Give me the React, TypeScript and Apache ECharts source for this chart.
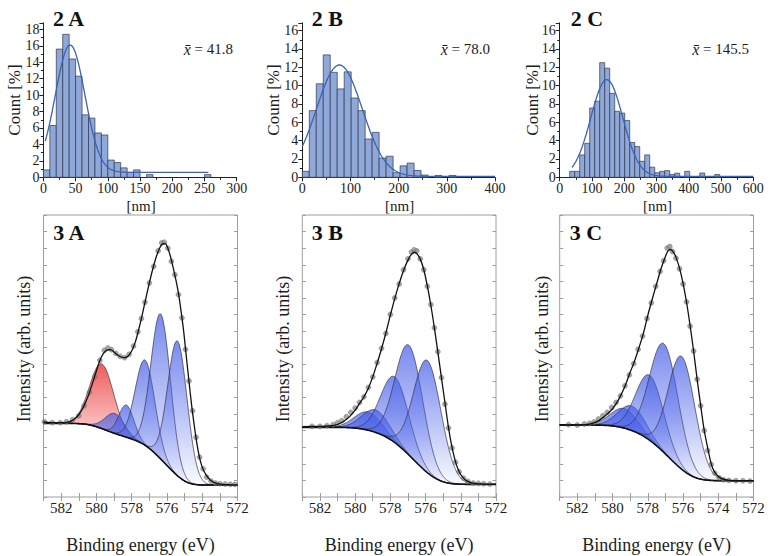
import React, { useEffect, useRef } from 'react';
import * as echarts from 'echarts';

const FONT = '"Liberation Serif", "DejaVu Serif", serif';
const INK = '#1c1c1c';
const BOX = '#9e9e9e';

// ---------- Histograms 2 A / 2 B / 2 C ----------
const histTitles = ['2 A', '2 B', '2 C'];
const meanLabels = ['41.8', '78.0', '145.5'];
const histXMax = [300, 400, 600];
const histXStep = [50, 100, 100];
const histYMax = [18.8, 16.85, 16.85];

// bin start (nm), bin width (nm), bar heights (Count %)
const histAStart = 0;
const histAWidth = 10;
const histACounts = [0.9, 6.3, 15.6, 17.4, 14.4, 12.3, 7.6, 7.2, 5.4, 5.15, 2.1, 1.8, 1.15, 0.6, 0.9, 0, 0.33, 0, 0, 0, 0, 0, 0, 0, 0, 0.33];

const histBStart = 0;
const histBWidth = 14.5;
const histBCounts = [0.65, 7.27, 10.2, 13.35, 11.45, 9.64, 11.5, 8.65, 7.27, 4.18, 4.9, 2.1, 2.3, 0.5, 1.25, 1.55, 0.75, 0.25, 0, 0.2, 0, 0.2];

const histCStart = 31;
const histCWidth = 15.5;
const histCCounts = [0.65, 0.65, 2.44, 3.7, 7.56, 8.3, 12.5, 11.9, 9.16, 7.2, 7.0, 6.2, 3.8, 3.35, 1.75, 2.44, 1.1, 0.5, 0.65, 0.73, 0.3, 0.45, 0, 0.65, 0, 0, 0.47, 0, 0, 0.3];

// fitted normal curves: [mean, sd, amplitude, offset, from, to]
const fitA = [41.5, 23, 15.5, 0.6, 3, 256];
const fitB = [77, 47.5, 12.15, 0.1, 0, 400];
const fitC = [146, 49.6, 10.55, 0.1, 38, 600];

// ---------- XPS 3 A / 3 B / 3 C ----------
const xpsTitles = ['3 A', '3 B', '3 C'];
const energyMin = 572;
const energyMax = 583;

// fitted components: [centre (eV), height above background, FWHM (eV)]
const xpsAPeaks = [[579.7, 1.95, 1.6], [578.95, 0.6, 1.3], [578.3, 0.97, 1.0], [577.24, 2.57, 1.3], [576.35, 4.37, 1.3], [575.4, 4.06, 1.3]];
const xpsAColors = ['red', 'blue', 'blue', 'blue', 'blue', 'blue'];
const xpsABackground = [2.22, 0.36]; // [high BE level, low BE level]
// envelope (fit sum): [eV, intensity]
const xpsAEnvelope = [
  [583.0, 2.26], [582.5, 2.24], [582.0, 2.24], [581.6, 2.26], [581.3, 2.33], [581.0, 2.48], [580.75, 2.7], [580.5, 3.0],
  [580.25, 3.38], [580.0, 3.8], [579.8, 4.12], [579.6, 4.33], [579.4, 4.43], [579.2, 4.44], [579.0, 4.37], [578.8, 4.28],
  [578.6, 4.22], [578.4, 4.2], [578.2, 4.25], [578.0, 4.4], [577.8, 4.66], [577.6, 5.05], [577.4, 5.5], [577.2, 5.98],
  [577.0, 6.45], [576.8, 6.88], [576.6, 7.25], [576.4, 7.52], [576.25, 7.63], [576.1, 7.64], [575.95, 7.5], [575.8, 7.25],
  [575.65, 6.92], [575.5, 6.56], [575.35, 6.15], [575.2, 5.6], [575.05, 4.98], [574.9, 4.22], [574.75, 3.48], [574.6, 2.76],
  [574.45, 2.15], [574.3, 1.6], [574.15, 1.18], [574.0, 0.9], [573.8, 0.68], [573.55, 0.51], [573.2, 0.41], [572.6, 0.37],
  [572.0, 0.36],
];
const xpsAPoints = [
  [582.95, 2.27], [582.5, 2.24], [582.05, 2.24], [581.7, 2.27], [581.35, 2.33], [581.0, 2.45], [580.7, 2.75], [580.4, 3.15],
  [580.1, 3.62], [579.8, 4.12], [579.55, 4.42], [579.35, 4.49], [579.15, 4.44], [578.9, 4.33], [578.65, 4.24], [578.4, 4.2],
  [578.15, 4.3], [577.9, 4.55], [577.65, 4.98], [577.45, 5.38], [577.25, 5.87], [577.0, 6.45], [576.75, 6.95], [576.5, 7.42],
  [576.3, 7.66], [576.15, 7.68], [575.95, 7.5], [575.75, 7.1], [575.55, 6.7], [575.35, 6.1], [575.15, 5.4], [574.95, 4.45],
  [574.75, 3.5], [574.55, 2.6], [574.35, 1.8], [574.15, 1.2], [573.95, 0.85], [573.75, 0.6], [573.5, 0.48], [573.25, 0.42],
  [573.0, 0.4], [572.7, 0.39], [572.4, 0.38], [572.15, 0.38],
];

const xpsBPeaks = [[579.26, 0.55, 1.8], [578.82, 0.68, 1.8], [577.74, 1.98, 1.85], [576.93, 3.31, 1.85], [575.89, 3.38, 1.85]];
const xpsBColors = ['blue', 'blue', 'blue', 'blue', 'blue'];
const xpsBBackground = [2.1, 0.38];
const xpsBEnvelope = [
  [583.0, 2.12], [582.0, 2.13], [581.5, 2.14], [581.2, 2.16], [580.9, 2.21], [580.6, 2.3], [580.3, 2.43], [580.0, 2.62],
  [579.75, 2.82], [579.5, 3.02], [579.25, 3.28], [579.0, 3.62], [578.75, 4.03], [578.5, 4.47], [578.25, 4.95], [578.0, 5.48],
  [577.75, 5.98], [577.5, 6.43], [577.25, 6.83], [577.0, 7.14], [576.8, 7.32], [576.65, 7.37], [576.5, 7.34], [576.3, 7.17],
  [576.1, 6.85], [575.9, 6.36], [575.7, 5.78], [575.5, 5.1], [575.3, 4.36], [575.1, 3.6], [574.9, 2.85], [574.7, 2.1],
  [574.5, 1.5], [574.3, 1.06], [574.1, 0.77], [573.85, 0.57], [573.6, 0.47], [573.3, 0.42], [572.8, 0.39], [572.0, 0.38],
];
const xpsBPoints = [
  [582.45, 2.13], [582.0, 2.13], [581.6, 2.15], [581.25, 2.18], [581.0, 2.24], [580.75, 2.3], [580.5, 2.42], [580.25, 2.55],
  [580.0, 2.68], [579.75, 2.85], [579.5, 3.02], [579.25, 3.3], [579.0, 3.62], [578.75, 4.05], [578.5, 4.48], [578.25, 4.93],
  [578.0, 5.5], [577.75, 6.0], [577.5, 6.42], [577.25, 6.85], [577.0, 7.18], [576.8, 7.38], [576.65, 7.45], [576.5, 7.42],
  [576.3, 7.18], [576.1, 6.85], [575.9, 6.35], [575.7, 5.8], [575.5, 5.1], [575.3, 4.38], [575.1, 3.6], [574.9, 2.8],
  [574.7, 2.08], [574.5, 1.48], [574.3, 1.05], [574.1, 0.76], [573.85, 0.57], [573.6, 0.47], [573.3, 0.42], [573.0, 0.41],
  [572.7, 0.4], [572.35, 0.39],
];

const xpsCPeaks = [[579.34, 0.59, 1.8], [578.9, 0.74, 1.8], [577.88, 1.96, 1.85], [577.07, 3.28, 1.9], [576.07, 3.4, 1.8]];
const xpsCColors = ['blue', 'blue', 'blue', 'blue', 'blue'];
const xpsCBackground = [2.17, 0.49];
const xpsCEnvelope = [
  [583.0, 2.17], [582.0, 2.17], [581.5, 2.18], [581.2, 2.21], [580.9, 2.27], [580.6, 2.37], [580.3, 2.5], [580.0, 2.66],
  [579.75, 2.85], [579.5, 3.1], [579.25, 3.4], [579.0, 3.76], [578.75, 4.1], [578.5, 4.5], [578.25, 4.93], [578.0, 5.47],
  [577.75, 5.96], [577.5, 6.42], [577.25, 6.88], [577.0, 7.25], [576.85, 7.42], [576.7, 7.46], [576.55, 7.38], [576.4, 7.23],
  [576.2, 6.9], [576.0, 6.45], [575.8, 5.87], [575.6, 5.17], [575.4, 4.4], [575.2, 3.55], [575.0, 2.76], [574.8, 2.02],
  [574.6, 1.48], [574.4, 1.0], [574.2, 0.74], [573.95, 0.6], [573.6, 0.52], [573.0, 0.49], [572.0, 0.49],
];
const xpsCPoints = [
  [582.5, 2.18], [582.0, 2.17], [581.6, 2.2], [581.3, 2.22], [581.05, 2.26], [580.8, 2.35], [580.55, 2.45], [580.3, 2.55],
  [580.05, 2.7], [579.8, 2.85], [579.55, 3.05], [579.3, 3.35], [579.05, 3.68], [578.8, 4.02], [578.55, 4.45], [578.3, 4.85],
  [578.05, 5.38], [577.8, 5.85], [577.55, 6.35], [577.3, 6.8], [577.1, 7.12], [576.9, 7.5], [576.75, 7.55], [576.6, 7.4],
  [576.4, 7.2], [576.2, 6.88], [576.0, 6.42], [575.8, 5.88], [575.6, 5.15], [575.4, 4.4], [575.2, 3.55], [575.0, 2.75],
  [574.8, 2.0], [574.6, 1.4], [574.4, 0.98], [574.2, 0.72], [573.95, 0.58], [573.7, 0.52], [573.4, 0.5], [573.0, 0.49],
  [572.6, 0.49], [572.2, 0.48],
];

// ---------- layout ----------
const histGrids = [
  { left: 43.4, width: 193.3 },
  { left: 302.3, width: 192.7 },
  { left: 559.7, width: 193.6 },
];
const xpsGrids = [
  { left: 43.5, width: 194 },
  { left: 302.3, width: 193.7 },
  { left: 559.7, width: 193.8 },
];

function gauss(x: number, c: number, h: number, w: number) {
  return h * Math.exp((-4 * Math.LN2 * (x - c) * (x - c)) / (w * w));
}

function xpsModel(peaks: number[][], levels: number[]) {
  const step = 0.025;
  const xs: number[] = [];
  for (let i = 0; i <= 440; i++) xs.push(+(energyMin + i * step).toFixed(3));
  const comps = peaks.map((p) => xs.map((x) => gauss(x, p[0], p[1], p[2])));
  const total = xs.map((_, i) => comps.reduce((s, c) => s + c[i], 0));
  const cum = [0];
  for (let i = 1; i < xs.length; i++) cum.push(cum[i - 1] + ((total[i] + total[i - 1]) / 2) * step);
  const [hi, lo] = levels;
  const bg = cum.map((c) => lo + ((hi - lo) * c) / cum[cum.length - 1]);
  return { xs, comps, bg };
}

function fitCurve(f: number[]) {
  const [m, sd, a, off, from, to] = f;
  const pts: number[][] = [];
  for (let x = from; x <= to; x += 1) pts.push([x, off + a * Math.exp(-((x - m) * (x - m)) / (2 * sd * sd))]);
  return pts;
}

const blueFill = () =>
  new echarts.graphic.LinearGradient(0, 0, 0, 1, [
    { offset: 0, color: 'rgba(70,94,232,0.72)' },
    { offset: 1, color: 'rgba(70,94,232,0.03)' },
  ]);
const redFill = () =>
  new echarts.graphic.LinearGradient(0, 0, 0, 1, [
    { offset: 0, color: 'rgba(238,70,70,0.88)' },
    { offset: 0.55, color: 'rgba(238,70,70,0.3)' },
    { offset: 1, color: 'rgba(238,70,70,0.04)' },
  ]);

function buildOption() {
  const hists = [
    { start: histAStart, width: histAWidth, counts: histACounts, fit: fitA },
    { start: histBStart, width: histBWidth, counts: histBCounts, fit: fitB },
    { start: histCStart, width: histCWidth, counts: histCCounts, fit: fitC },
  ];
  const xps = [
    { peaks: xpsAPeaks, colors: xpsAColors, levels: xpsABackground, points: xpsAPoints, envelope: xpsAEnvelope },
    { peaks: xpsBPeaks, colors: xpsBColors, levels: xpsBBackground, points: xpsBPoints, envelope: xpsBEnvelope },
    { peaks: xpsCPeaks, colors: xpsCColors, levels: xpsCBackground, points: xpsCPoints, envelope: xpsCEnvelope },
  ];

  const grid: any[] = [];
  histGrids.forEach((g) => grid.push({ left: g.left, width: g.width, top: 22.8, height: 154.5, outerBoundsMode: 'none' }));
  xpsGrids.forEach((g) =>
    grid.push({ left: g.left, width: g.width, top: 215, height: 282, show: true, borderColor: BOX, borderWidth: 1, backgroundColor: 'transparent', outerBoundsMode: 'none' })
  );

  const labelStyle = { color: INK, fontFamily: FONT };
  const xAxis: any[] = [];
  const yAxis: any[] = [];
  for (let i = 0; i < 3; i++) {
    xAxis.push({
      type: 'value', gridIndex: i, min: 0, max: histXMax[i], interval: histXStep[i],
      axisLine: { show: true, onZero: false, lineStyle: { color: '#222', width: 1 } },
      axisTick: { show: true, length: 4, lineStyle: { color: '#222' } },
      minorTick: { show: true, splitNumber: 2, length: 2.5, lineStyle: { color: '#222' } },
      axisLabel: { ...labelStyle, fontSize: 14, margin: 4 },
      splitLine: { show: false },
    });
    yAxis.push({
      type: 'value', gridIndex: i, min: 0, max: histYMax[i], interval: 2,
      axisLine: { show: true, onZero: false, lineStyle: { color: '#222', width: 1 } },
      axisTick: { show: true, length: 4, lineStyle: { color: '#222' } },
      minorTick: { show: true, splitNumber: 2, length: 2.5, lineStyle: { color: '#222' } },
      axisLabel: { ...labelStyle, fontSize: 14, margin: 4, formatter: (v: number) => (Math.abs(v % 2) < 1e-9 ? String(v) : '') },
      splitLine: { show: false },
    });
  }
  for (let i = 0; i < 3; i++) {
    xAxis.push({
      type: 'value', gridIndex: 3 + i, min: energyMin, max: energyMax, interval: 1, inverse: true, position: 'bottom',
      axisLine: { show: false },
      axisTick: { show: true, inside: true, length: 4, lineStyle: { color: BOX } },
      axisLabel: {
        ...labelStyle, fontSize: 15, margin: 3,
        formatter: (v: number) => (Math.round(v) % 2 === 0 ? String(Math.round(v)) : ''),
      },
      splitLine: { show: false },
    });
  }
  for (let i = 0; i < 3; i++) {
    xAxis.push({
      type: 'value', gridIndex: 3 + i, min: energyMin, max: energyMax, interval: 1, inverse: true, position: 'top',
      axisLine: { show: false },
      axisTick: { show: true, inside: true, length: 4, lineStyle: { color: BOX } },
      axisLabel: { show: false },
      splitLine: { show: false },
    });
  }
  for (let i = 0; i < 3; i++) {
    yAxis.push({
      type: 'value', gridIndex: 3 + i, min: 0, max: 8.5, interval: 0.5, position: 'left',
      axisLine: { show: false },
      axisTick: { show: true, inside: true, length: 3.5, lineStyle: { color: BOX } },
      axisLabel: { show: false },
      splitLine: { show: false },
    });
  }
  for (let i = 0; i < 3; i++) {
    yAxis.push({
      type: 'value', gridIndex: 3 + i, min: 0, max: 8.5, interval: 0.5, position: 'right',
      axisLine: { show: false },
      axisTick: { show: true, inside: true, length: 3.5, lineStyle: { color: BOX } },
      axisLabel: { show: false },
      splitLine: { show: false },
    });
  }

  const series: any[] = [];
  hists.forEach((h, i) => {
    const data = h.counts
      .map((c, k) => [h.start + k * h.width, h.start + (k + 1) * h.width, c])
      .filter((d) => d[2] > 0);
    series.push({
      type: 'custom', xAxisIndex: i, yAxisIndex: i, silent: true,
      data, encode: { x: [0, 1], y: 2 },
      renderItem: (_p: any, api: any) => {
        const a = api.coord([api.value(0), api.value(2)]);
        const b = api.coord([api.value(1), 0]);
        return {
          type: 'rect',
          shape: { x: a[0], y: a[1], width: b[0] - a[0], height: b[1] - a[1] },
          style: { fill: '#8fa8da', stroke: 'rgba(45,50,70,0.85)', lineWidth: 0.8 },
        };
      },
    });
    series.push({
      type: 'line', xAxisIndex: i, yAxisIndex: i, data: fitCurve(h.fit), showSymbol: false, silent: true,
      lineStyle: { color: '#3b62b8', width: 1.3 }, z: 3,
    });
  });

  xps.forEach((p, i) => {
    const m = xpsModel(p.peaks, p.levels);
    series.push({
      type: 'custom', xAxisIndex: 3 + i, yAxisIndex: 3 + i, silent: true, clip: true,
      data: p.peaks.map((pk, k) => [pk[0], 1, k]), encode: { x: 0, y: 1 },
      renderItem: (_pp: any, api: any) => {
        const k = api.value(2);
        const up = m.xs.map((x, j) => api.coord([x, m.bg[j] + m.comps[k][j]]));
        const lo = m.xs.map((x, j) => api.coord([x, m.bg[j]])).reverse();
        return {
          type: 'group',
          children: [
            { type: 'polygon', shape: { points: up.concat(lo) }, style: { fill: p.colors[k] === 'red' ? redFill() : blueFill() } },
            { type: 'polyline', shape: { points: up }, style: { fill: 'none', stroke: 'rgba(45,45,62,0.85)', lineWidth: 0.8 } },
          ],
        };
      },
    });
    series.push({
      type: 'line', xAxisIndex: 3 + i, yAxisIndex: 3 + i, silent: true, showSymbol: false,
      data: m.xs.map((x, j) => [x, m.bg[j]]), lineStyle: { color: '#111', width: 1.6 }, z: 3,
    });
    series.push({
      type: 'scatter', xAxisIndex: 3 + i, yAxisIndex: 3 + i, silent: true, symbolSize: 5,
      data: p.points, itemStyle: { color: 'rgba(125,125,125,0.85)', borderColor: '#6a6a6a', borderWidth: 0.5 }, z: 4,
    });
    series.push({
      type: 'line', xAxisIndex: 3 + i, yAxisIndex: 3 + i, silent: true, showSymbol: false,
      smooth: 0.3,
      data: [...p.envelope].sort((a, b) => a[0] - b[0]), lineStyle: { color: '#111', width: 1.3 }, z: 5,
    });
  });

  const graphic: any[] = [];
  const titleX = [[53, 311.7, 570.7], [53.3, 311.7, 569.7]];
  histTitles.forEach((t, i) =>
    graphic.push({ type: 'text', x: titleX[0][i], y: 18.5, style: { text: t, fontFamily: FONT, fontSize: 22, fontWeight: 'bold', fill: '#111', align: 'left', verticalAlign: 'middle' } })
  );
  xpsTitles.forEach((t, i) =>
    graphic.push({ type: 'text', x: titleX[1][i], y: 232.5, style: { text: t, fontFamily: FONT, fontSize: 22, fontWeight: 'bold', fill: '#111', align: 'left', verticalAlign: 'middle' } })
  );
  const meanRight = [233, 490, 749];
  meanLabels.forEach((t, i) =>
    graphic.push({
      type: 'text', x: meanRight[i], y: 49,
      style: {
        text: '{i|x\u0304} = ' + t, fontFamily: FONT, fontSize: 15, fill: INK, align: 'right', verticalAlign: 'middle',
        rich: { i: { fontFamily: FONT, fontSize: 16, fontStyle: 'italic', fill: INK } },
      },
    })
  );
  const countX = [14, 273.5, 532.5];
  const intensityX = [24, 283, 541.5];
  for (let i = 0; i < 3; i++) {
    const hg = histGrids[i];
    const xg = xpsGrids[i];
    graphic.push({ type: 'text', x: countX[i], y: 100, rotation: Math.PI / 2, style: { text: 'Count [%]', fontFamily: FONT, fontSize: 17, fill: INK, align: 'center', verticalAlign: 'middle' } });
    graphic.push({ type: 'text', x: hg.left + hg.width / 2 + 1, y: 205.5, style: { text: '[nm]', fontFamily: FONT, fontSize: 15, fill: INK, align: 'center', verticalAlign: 'middle' } });
    graphic.push({ type: 'text', x: intensityX[i], y: 349, rotation: Math.PI / 2, style: { text: 'Intensity (arb. units)', fontFamily: FONT, fontSize: 18, fill: INK, align: 'center', verticalAlign: 'middle' } });
    graphic.push({ type: 'text', x: xg.left + xg.width / 2, y: 545, style: { text: 'Binding energy (eV)', fontFamily: FONT, fontSize: 18, fill: INK, align: 'center', verticalAlign: 'middle' } });
  }

  return { animation: false, backgroundColor: '#fff', grid, xAxis, yAxis, series, graphic };
}

export default function App() {
  const ref = useRef<HTMLDivElement>(null);
  useEffect(() => {
    const chart = echarts.init(ref.current as HTMLDivElement, null, { renderer: 'svg' });
    chart.setOption(buildOption() as any);
    return () => chart.dispose();
  }, []);
  return <div ref={ref} style={{ position: 'fixed', left: 0, top: 0, width: 779, height: 556, background: '#fff' }} />;
}
